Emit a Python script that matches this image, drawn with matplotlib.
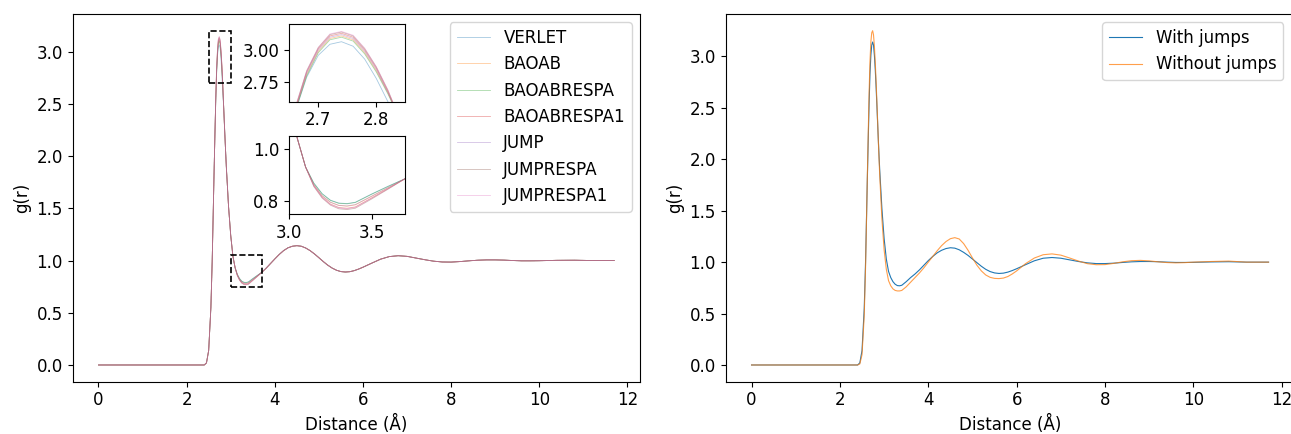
import matplotlib
matplotlib.use("Agg")
import matplotlib.pyplot as plt
from matplotlib.patches import Rectangle

plt.rcParams["font.size"] = 12

# ---------------- data ----------------
# shared radial grid segments (Å)
r_a = [0.0, 0.5, 1.0, 1.5, 2.0, 2.3, 2.40, 2.45, 2.50, 2.55, 2.58, 2.60, 2.62, 2.64]
r_peak = [2.66, 2.68, 2.70, 2.72, 2.74, 2.76, 2.78, 2.80, 2.82]
r_b = [2.84, 2.86, 2.88, 2.90, 2.95, 3.00, 3.05, 3.10]
r_shell = [3.15, 3.20, 3.25, 3.30, 3.35, 3.40, 3.50, 3.60]
r_tail = [3.70, 3.80, 3.90, 4.00, 4.10, 4.20, 4.30, 4.40, 4.50, 4.60, 4.70, 4.80,
          4.90, 5.00, 5.10, 5.20, 5.30, 5.40, 5.50, 5.60, 5.70, 5.80, 5.90, 6.00,
          6.20, 6.40, 6.60, 6.80, 7.00, 7.20, 7.40, 7.60, 7.80, 8.00, 8.20, 8.40,
          8.60, 8.80, 9.00, 9.20, 9.40, 9.60, 9.80, 10.00, 10.40, 10.80, 11.20, 11.70]

# left panel: values common to all integrators
g_a_common = [0, 0, 0, 0, 0, 0, 0.0, 0.02, 0.14, 0.55, 1.0, 1.40, 1.80, 2.18]
g_b_common = [2.47, 2.27, 2.08, 1.90, 1.52, 1.24, 1.04, 0.93]
g_tail_common = [0.885, 0.925, 0.97, 1.015, 1.058, 1.095, 1.122, 1.137, 1.142, 1.137,
                 1.12, 1.095, 1.063, 1.027, 0.99, 0.956, 0.928, 0.907, 0.894, 0.89,
                 0.893, 0.903, 0.918, 0.936, 0.975, 1.013, 1.038, 1.046, 1.04, 1.024,
                 1.008, 0.994, 0.986, 0.985, 0.99, 0.997, 1.003, 1.006, 1.006, 1.004,
                 1.0, 0.997, 0.997, 0.998, 1.002, 1.003, 1.0, 1.0]

labels_left = ["VERLET", "BAOAB", "BAOABRESPA", "BAOABRESPA1", "JUMP", "JUMPRESPA", "JUMPRESPA1"]

peak_verlet = [2.52, 2.79, 2.96, 3.045, 3.065, 3.03, 2.93, 2.78, 2.60]
peak_baoab = [2.53, 2.81, 2.99, 3.09, 3.11, 3.08, 2.98, 2.84, 2.67]
peak_baoabrespa = [2.52, 2.80, 2.98, 3.08, 3.10, 3.07, 2.97, 2.83, 2.66]
peak_baoabrespa1 = [2.54, 2.83, 3.01, 3.11, 3.13, 3.10, 3.00, 2.86, 2.68]
peak_jump = [2.53, 2.82, 3.00, 3.10, 3.12, 3.09, 2.99, 2.85, 2.67]
peak_jumprespa = [2.55, 2.84, 3.02, 3.12, 3.14, 3.11, 3.01, 2.87, 2.69]
peak_jumprespa1 = [2.55, 2.84, 3.02, 3.125, 3.145, 3.115, 3.015, 2.87, 2.69]

shell_verlet = [0.868, 0.828, 0.803, 0.792, 0.790, 0.795, 0.827, 0.857]
shell_baoab = [0.862, 0.820, 0.795, 0.783, 0.780, 0.785, 0.818, 0.851]
shell_baoabrespa = [0.868, 0.827, 0.802, 0.791, 0.789, 0.794, 0.826, 0.856]
shell_baoabrespa1 = [0.858, 0.815, 0.788, 0.775, 0.772, 0.777, 0.812, 0.848]
shell_jump = [0.862, 0.820, 0.795, 0.783, 0.781, 0.786, 0.819, 0.852]
shell_jumprespa = [0.855, 0.811, 0.784, 0.770, 0.767, 0.772, 0.808, 0.846]
shell_jumprespa1 = [0.857, 0.813, 0.786, 0.773, 0.770, 0.775, 0.811, 0.848]

peaks_left = [peak_verlet, peak_baoab, peak_baoabrespa, peak_baoabrespa1,
              peak_jump, peak_jumprespa, peak_jumprespa1]
shells_left = [shell_verlet, shell_baoab, shell_baoabrespa, shell_baoabrespa1,
               shell_jump, shell_jumprespa, shell_jumprespa1]

# right panel
labels_right = ["With jumps", "Without jumps"]
g_with = ([0, 0, 0, 0, 0, 0, 0.0, 0.02, 0.14, 0.55, 1.0, 1.40, 1.80, 2.18]
          + [2.54, 2.83, 3.01, 3.11, 3.14, 3.11, 3.01, 2.87, 2.69]
          + [2.49, 2.28, 2.08, 1.90, 1.52, 1.23, 1.03, 0.91]
          + [0.85, 0.81, 0.785, 0.772, 0.77, 0.775, 0.81, 0.85]
          + [0.885, 0.925, 0.97, 1.015, 1.055, 1.09, 1.115, 1.132, 1.14, 1.136,
             1.12, 1.095, 1.065, 1.03, 0.995, 0.96, 0.93, 0.908, 0.895, 0.89,
             0.893, 0.903, 0.918, 0.936, 0.975, 1.013, 1.038, 1.045, 1.038, 1.022,
             1.006, 0.993, 0.986, 0.986, 0.99, 0.997, 1.003, 1.006, 1.006, 1.004,
             1.0, 0.997, 0.997, 0.998, 1.002, 1.004, 1.0, 1.0])
g_without = ([0, 0, 0, 0, 0, 0, 0.0, 0.01, 0.10, 0.48, 0.95, 1.38, 1.82, 2.24]
             + [2.64, 2.95, 3.14, 3.23, 3.25, 3.21, 3.10, 2.94, 2.74]
             + [2.52, 2.29, 2.06, 1.85, 1.42, 1.12, 0.93, 0.82]
             + [0.77, 0.74, 0.725, 0.72, 0.72, 0.725, 0.76, 0.805]
             + [0.85, 0.895, 0.945, 1.0, 1.055, 1.11, 1.16, 1.20, 1.228, 1.238,
                1.225, 1.18, 1.115, 1.04, 0.97, 0.915, 0.875, 0.852, 0.842, 0.84,
                0.845, 0.86, 0.885, 0.915, 0.985, 1.04, 1.072, 1.08, 1.068, 1.04,
                1.01, 0.985, 0.975, 0.976, 0.988, 1.003, 1.014, 1.017, 1.012, 1.003,
                0.996, 0.993, 0.995, 1.0, 1.006, 1.01, 1.0, 1.0])

r_full = r_a + r_peak + r_b + r_shell + r_tail

# inset windows / zoom boxes
inset1_xlim, inset1_ylim = (2.65, 2.85), (2.6, 3.2)
inset2_xlim, inset2_ylim = (3.0, 3.7), (0.75, 1.05)
box1 = (2.5, 2.7, 0.5, 0.5)
box2 = (3.0, 0.75, 0.7, 0.3)

# ---------------- figure ----------------
W, H = 1291, 434
fig = plt.figure(figsize=(W / 100, H / 100), dpi=100)

ax1 = fig.add_axes([72.7 / W, (H - 381.7) / H, 567.3 / W, 367.7 / H])
ax2 = fig.add_axes([725.7 / W, (H - 381.7) / H, 568.7 / W, 367.7 / H])
ins1 = fig.add_axes([289.3 / W, (H - 101.7) / H, 116 / W, 77.4 / H])
ins2 = fig.add_axes([289.0 / W, (H - 214.0) / H, 116 / W, 78.3 / H])

colors = [f"C{i}" for i in range(7)]
for lab, pk, sh, c in zip(labels_left, peaks_left, shells_left, colors):
    g = g_a_common + pk + g_b_common + sh + g_tail_common
    for a in (ax1, ins1, ins2):
        a.plot(r_full, g, color=c, lw=0.6, alpha=0.4, label=lab if a is ax1 else None)

for (x, y, w, h) in (box1, box2):
    ax1.add_patch(Rectangle((x, y), w, h, fill=False, ls="--", lw=1.2, ec="black", zorder=5))

ax1.set_xlabel("Distance (Å)")
ax1.set_ylabel("g(r)")
ax1.legend(loc="upper right")

ins1.set_xlim(*inset1_xlim)
ins1.set_ylim(*inset1_ylim)
ins1.set_xticks([2.7, 2.8])
ins1.set_yticks([2.75, 3.00])
ins2.set_xlim(*inset2_xlim)
ins2.set_ylim(*inset2_ylim)
ins2.set_xticks([3.0, 3.5])
ins2.set_yticks([0.8, 1.0])

ax2.plot(r_full, g_with, color="C0", lw=0.8, label=labels_right[0])
ax2.plot(r_full, g_without, color="C1", lw=0.8, alpha=0.75, label=labels_right[1])
ax2.set_xlabel("Distance (Å)")
ax2.set_ylabel("g(r)")
ax2.legend(loc="upper right", bbox_to_anchor=((1291.3 - 725.7) / 568.7, 1.0))

fig.savefig("out.png", dpi=100)
